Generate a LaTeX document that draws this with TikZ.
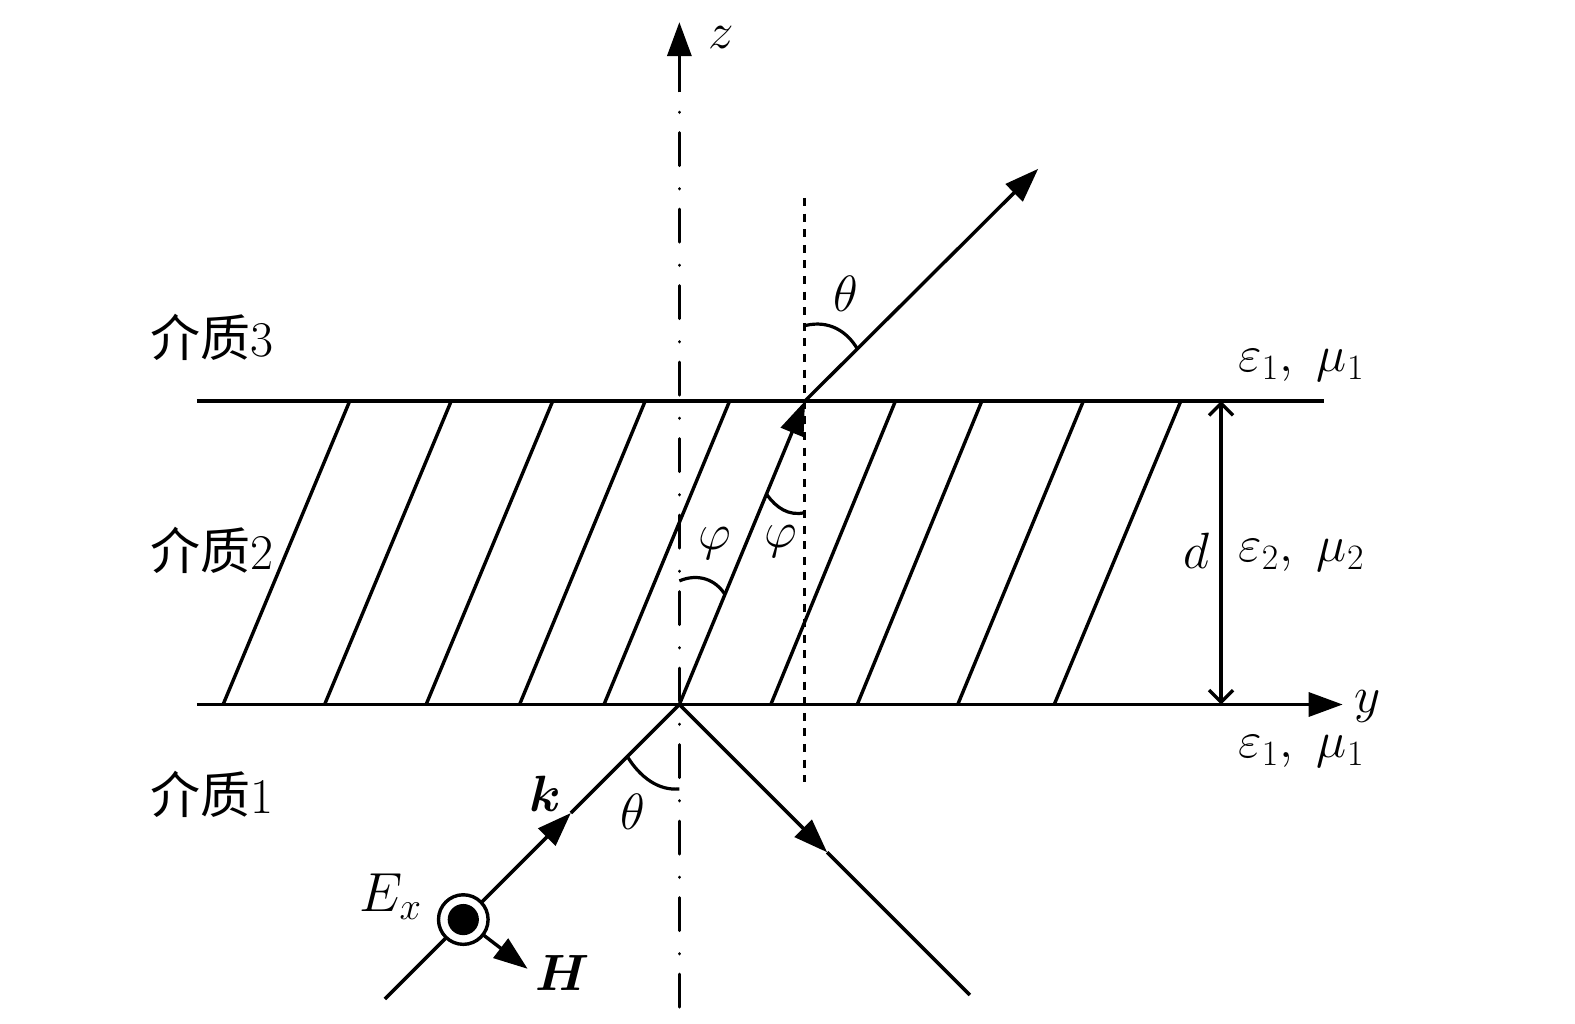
\RequirePackage{fix-cm}
\documentclass[tikz,border=0pt]{standalone}
\usepackage{amsmath}
\usepackage{bm}
\usepackage[no-math]{fontspec}
\setmainfont{Latin Modern Roman}
\newfontfamily\cjk{Noto Sans CJK SC}
\usetikzlibrary{arrows.meta}
\tikzset{
  line/.style={line width=1.7pt},
  tri/.style={-{Triangle[length=17pt,width=12pt]}},
  axisdash/.style={line width=1.7pt,line cap=round,dash pattern=on 16.4pt off 10.2pt on 0.05pt off 11.6pt},
  shortdash/.style={line width=1.5pt,dash pattern=on 4pt off 3.8pt},
  arcline/.style={line width=1.6pt},
  lab/.style={inner sep=0pt,font=\fontsize{25.5}{30}\selectfont},
  cjklab/.style={inner sep=0pt,anchor=west,font=\fontsize{25}{30}\selectfont}
}
\begin{document}
\begin{tikzpicture}[x=0.5025pt,y=-0.5025pt]
\useasboundingbox (0,0) rectangle (1567.2,1018.9);
\coordinate (O) at (676,701);
\coordinate (P) at (801,399);
\coordinate (Ltop) at (196,399);
\coordinate (Rtop) at (1317,399);
\coordinate (Lbot) at (196,701);
\coordinate (Ytip) at (1336,701);
\coordinate (Zbot) at (676,1002);
\coordinate (Ztip) at (676,22);
\coordinate (Ntop) at (801,197);
\coordinate (Nbot) at (801,778);
\coordinate (Istart) at (383,994);
\coordinate (Itip) at (568,809);
\coordinate (Rtip) at (823,848);
\coordinate (Rend) at (965,990);
\coordinate (Ttip) at (1033,168);
\coordinate (Dtop) at (1215,399);
\coordinate (Dbot) at (1215,701);
\coordinate (Htip) at (525,964);
% hatching
\foreach \a/\b in {222/348,323/449,424/550,517/642,601/726,767/891,853/977,953/1078,1049/1175}
  \draw[line] (\a,701) -- (\b,399);
% axis and normal
\draw[axisdash] (Zbot) -- (676,92);
\draw[line,tri] (676,92) -- (Ztip);
\draw[shortdash] (Ntop) -- (Nbot);
% interfaces
\draw[line] (Ltop) -- (Rtop);
\draw[line,tri] (Lbot) -- (Ytip);
% rays
\draw[line] (Itip) -- (O);
\draw[line,tri] (Istart) -- (Itip);
\draw[line,tri] (O) -- (Rtip);
\draw[line] (Rtip) -- (Rend);
\draw[line,tri] (O) -- (P);
\draw[line,tri] (P) -- (Ttip);
% thickness
\draw[line,{Straight Barb[length=6pt,width=12pt]}-{Straight Barb[length=6pt,width=12pt]}] (Dtop) -- (Dbot);
% angle arcs
\draw[arcline] (676,785) .. controls (655,787) and (637,773) .. (625,754);
\draw[arcline] (801,324) .. controls (825,318) and (843,330) .. (853,347);
\draw[arcline] (676,578) .. controls (695,570) and (712,577) .. (721,591);
\draw[arcline] (801,510) .. controls (785,514) and (772,505) .. (763,492);
% field symbol
\draw[line,tri] (461,915) -- (Htip);
\node[circle,draw,fill=white,line width=1.7pt,minimum size=24.8pt,inner sep=0pt] (Ering) at (461,915) {};
\node[circle,fill=black,minimum size=15.6pt,inner sep=0pt] (Edot) at (Ering) {};
% labels
\node[lab] (lz) at (718,37) {$z$};
\node[lab] (ly) at (1361,703) {$y$};
\node[lab] (lt1) at (842,292) {$\theta$};
\node[lab] (lt2) at (630,808) {$\theta$};
\node[lab] (lp1) at (711,541) {$\varphi$};
\node[lab] (lp2) at (777,539) {$\varphi$};
\node[lab] (ld) at (1191,548) {$d$};
\node[lab] (le1) at (1295,364) {$\varepsilon_1,\ \mu_1$};
\node[lab] (le2) at (1295,553) {$\varepsilon_2,\ \mu_2$};
\node[lab] (le3) at (1295,748) {$\varepsilon_1,\ \mu_1$};
\node[lab] (lk) at (543,790) {$\bm{k}$};
\node[lab] (lH) at (560,968) {$\bm{H}$};
\node[lab,scale=1.08] (lE) at (389,892) {$E_x$};
\node[cjklab] (m3) at (149,336) {{\cjk 介质}3};
\node[cjklab] (m2) at (149,548) {{\cjk 介质}2};
\node[cjklab] (m1) at (149,790) {{\cjk 介质}1};
\end{tikzpicture}
\end{document}
